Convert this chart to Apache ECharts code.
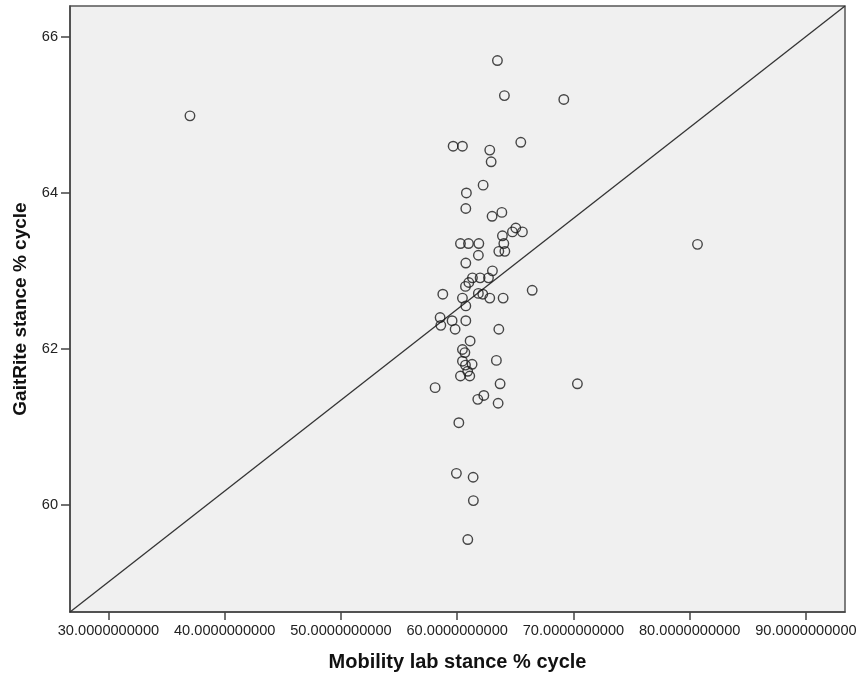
<!DOCTYPE html>
<html>
<head>
    <meta charset="utf-8"/>
    <title>GaitRite vs Mobility lab</title>
    <script src="https://cdn.jsdelivr.net/npm/echarts@6/dist/echarts.min.js"></script>
    <style>
        html, body { margin: 0; padding: 0; background: #fff; }
        #main { width: 856px; height: 679px; }
    </style>
</head>
<body>
<div id="main"></div>
<script>
    // stance % cycle
    var mobilityX = [
        37.01, 80.67, 63.46, 64.06, 69.17, 59.65, 60.45, 62.80, 62.92, 65.47,
        62.23, 60.79, 60.74, 63.00, 63.84, 65.04, 64.75, 65.61, 63.89, 60.28,
        60.97, 61.86, 64.01, 63.58, 64.10, 61.82, 60.74, 63.03, 61.31, 61.97,
        62.69, 61.00, 60.71, 58.76, 61.82, 62.20, 60.45, 62.80, 63.95, 66.45,
        60.74, 58.53, 59.56, 60.74, 58.59, 59.82, 63.58, 61.11, 60.45, 60.66,
        60.45, 61.28, 60.71, 60.90, 60.28, 61.08, 63.37, 58.10, 63.69, 70.34,
        62.29, 61.77, 63.52, 60.14, 59.93, 61.37, 61.39, 60.91
    ];
    var gaitriteY = [
        64.99, 63.34, 65.70, 65.25, 65.20, 64.60, 64.60, 64.55, 64.40, 64.65,
        64.10, 64.00, 63.80, 63.70, 63.75, 63.55, 63.50, 63.50, 63.45, 63.35,
        63.35, 63.35, 63.35, 63.25, 63.25, 63.20, 63.10, 63.00, 62.91, 62.91,
        62.91, 62.85, 62.80, 62.70, 62.71, 62.70, 62.65, 62.65, 62.65, 62.75,
        62.55, 62.40, 62.36, 62.36, 62.30, 62.25, 62.25, 62.10, 61.99, 61.95,
        61.84, 61.80, 61.79, 61.71, 61.65, 61.65, 61.85, 61.50, 61.55, 61.55,
        61.40, 61.35, 61.30, 61.05, 60.40, 60.35, 60.05, 59.55
    ];
    var xTicks = [30, 40, 50, 60, 70, 80, 90];
    var yTicks = [60, 62, 64, 66];
    var xMin = 26.69, xMax = 93.36;
    var yMin = 58.62, yMax = 66.40;

    var points = mobilityX.map(function (x, i) { return [x, gaitriteY[i]]; });
    // reference line runs corner to corner
    var refLine = [[xMin, yMin], [xMax, yMax]];

    var chart = echarts.init(document.getElementById('main'));
    var option = {
        backgroundColor: '#ffffff',
        animation: false,
        textStyle: { fontFamily: '"Liberation Sans", Arial, sans-serif' },
        grid: {
            left: 70, right: 11, top: 6, bottom: 67,
            outerBoundsMode: 'none',
            containLabel: false,
            show: true,
            backgroundColor: '#f0f0f0',
            borderColor: '#555',
            borderWidth: 1.5
        },
        xAxis: {
            type: 'value',
            min: xMin,
            max: xMax,
            name: 'Mobility lab stance % cycle',
            nameLocation: 'middle',
            nameGap: 40,
            nameTextStyle: { fontSize: 20, fontWeight: 'bold', color: '#111' },
            axisLine: { lineStyle: { color: '#444', width: 1.5 } },
            axisTick: { show: true, length: 8, customValues: xTicks, lineStyle: { color: '#444', width: 1.5 } },
            axisLabel: {
                customValues: xTicks,
                margin: 11,
                fontSize: 14.6,
                color: '#222',
                formatter: function (v) { return v.toFixed(10); }
            },
            splitLine: { show: false }
        },
        yAxis: {
            type: 'value',
            min: yMin,
            max: yMax,
            name: 'GaitRite stance % cycle',
            nameLocation: 'middle',
            nameGap: 40,
            nameTextStyle: { fontSize: 19, fontWeight: 'bold', color: '#111' },
            axisLine: { show: true, lineStyle: { color: '#444', width: 1.5 } },
            axisTick: { show: true, length: 9, customValues: yTicks, lineStyle: { color: '#444', width: 1.5 } },
            axisLabel: {
                customValues: yTicks,
                margin: 12,
                fontSize: 14.6,
                color: '#222',
                formatter: function (v) { return String(Math.round(v)); }
            },
            splitLine: { show: false }
        },
        series: [
            {
                type: 'line',
                data: refLine,
                symbol: 'none',
                silent: true,
                lineStyle: { color: '#333', width: 1.3 },
                z: 1
            },
            {
                type: 'scatter',
                data: points,
                symbol: 'circle',
                symbolSize: 9.5,
                itemStyle: { color: 'rgba(0,0,0,0)', borderColor: '#1a1a1a', borderWidth: 1.4 },
                z: 2
            }
        ]
    };
    chart.setOption(option);
</script>
</body>
</html>
